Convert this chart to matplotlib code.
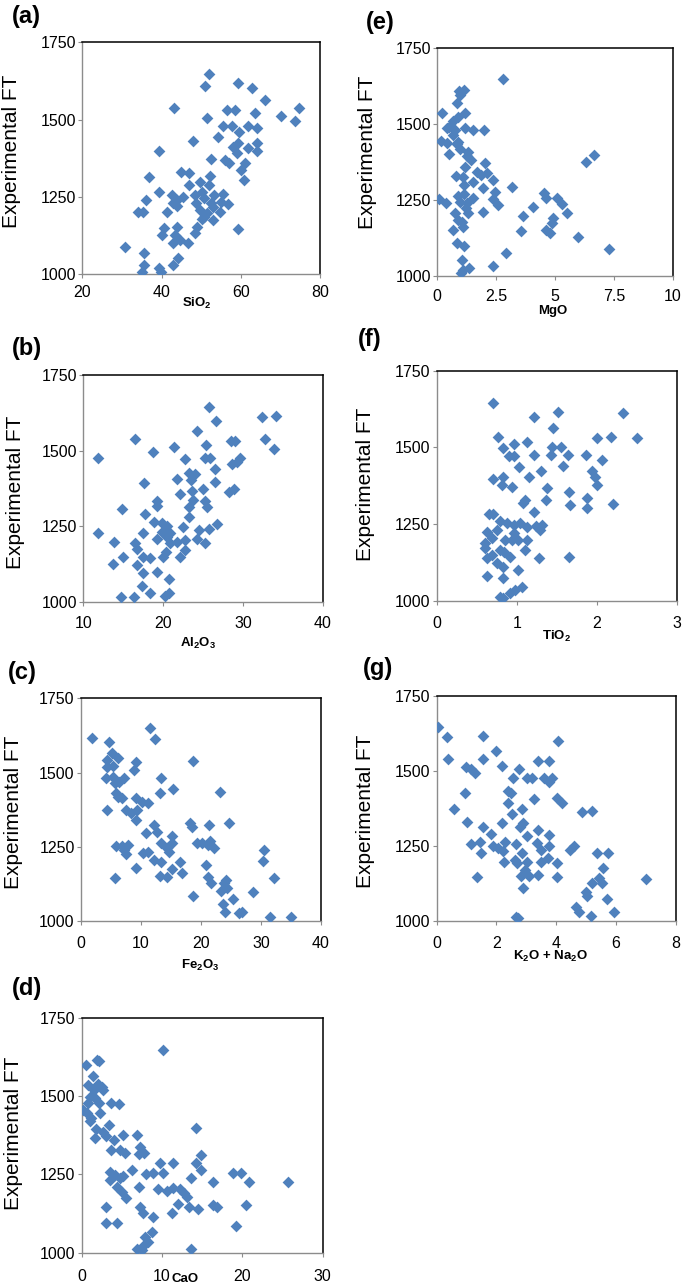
import matplotlib
matplotlib.use("Agg")
import matplotlib.pyplot as plt

plt.rcParams["font.family"] = ["Liberation Sans", "DejaVu Sans"]
plt.rcParams["mathtext.default"] = "regular"

# ---- data: oxide content vs experimental FT ----
sio2 = [52.1, 51.0, 59.2, 62.9, 66.1, 43.2, 56.6, 58.6, 74.7, 70.1, 73.7, 51.5, 63.6, 55.5, 57.9,
        59.6, 61.9, 64.0, 54.3, 48.0, 59.2, 58.1, 64.0, 61.8, 64.0, 59.1, 39.4, 52.4, 55.9, 57.0,
        61.1, 60.0, 60.8, 44.9, 46.9, 36.9, 52.2, 49.7, 47.0, 52.1, 39.4, 42.6, 45.3, 48.5, 50.1,
        50.7, 53.3, 55.5, 55.0, 56.7, 52.6, 42.8, 43.8, 36.2, 34.1, 35.4, 41.3, 49.7, 51.4, 50.1,
        52.9, 54.8, 43.8, 40.5, 43.8, 40.2, 43.5, 59.2, 48.9, 48.4, 43.0, 44.7, 46.8, 30.8, 35.7,
        44.1, 43.0, 35.7, 35.0, 39.3, 39.8, 50.8, 53.1, 48.6]
sio2_ft = [1648, 1610, 1617, 1601, 1564, 1537, 1531, 1531, 1537, 1513, 1497, 1504, 1520, 1479, 1479,
           1461, 1479, 1474, 1443, 1432, 1426, 1413, 1424, 1407, 1397, 1391, 1397, 1373, 1370, 1361,
           1359, 1337, 1305, 1332, 1326, 1314, 1319, 1300, 1288, 1289, 1265, 1256, 1249, 1256, 1267,
           1246, 1256, 1260, 1233, 1227, 1230, 1230, 1240, 1240, 1203, 1203, 1200, 1208, 1197, 1178,
           1176, 1203, 1222, 1149, 1152, 1127, 1127, 1145, 1152, 1135, 1102, 1111, 1100, 1087, 1070,
           1052, 1030, 1030, 1009, 1019, 1009, 1186, 1219, 1230]

al2o3 = [25.7, 26.6, 24.2, 32.4, 34.1, 32.8, 33.9, 16.5, 11.8, 18.7, 21.4, 25.4, 22.8, 25.2, 25.9,
         26.5, 28.5, 29.0, 28.6, 29.6, 29.2, 17.6, 21.8, 23.2, 24.0, 23.5, 26.5, 28.3, 28.9, 22.1,
         23.6, 25.0, 14.9, 19.2, 19.2, 23.8, 23.2, 25.3, 25.5, 17.7, 23.2, 18.9, 19.9, 20.5, 11.9,
         17.5, 13.8, 16.5, 19.8, 20.9, 22.5, 21.7, 22.8, 24.5, 24.2, 25.7, 26.8, 25.3, 19.2, 16.7,
         22.7, 15.0, 17.5, 20.0, 18.4, 20.4, 22.1, 13.7, 16.7, 17.5, 19.2, 20.8, 17.3, 18.4, 20.7,
         20.2, 16.3, 14.7, 20.9, 20.5]
al2o3_ft = [1645, 1598, 1566, 1610, 1614, 1537, 1504, 1537, 1476, 1496, 1513, 1518, 1471, 1476, 1476,
            1438, 1533, 1533, 1455, 1476, 1463, 1394, 1406, 1425, 1422, 1403, 1395, 1364, 1372, 1356,
            1366, 1373, 1306, 1334, 1317, 1336, 1312, 1333, 1314, 1290, 1281, 1265, 1261, 1250, 1228,
            1228, 1196, 1195, 1232, 1228, 1248, 1199, 1204, 1237, 1206, 1239, 1256, 1195, 1206, 1173,
            1171, 1147, 1149, 1149, 1143, 1165, 1147, 1125, 1121, 1094, 1099, 1075, 1052, 1028, 1030,
            1019, 1014, 1014, 1193, 1215]

fe2o3 = [1.9, 4.6, 11.5, 12.3, 5.1, 4.4, 6.2, 4.3, 5.4, 4.2, 5.4, 7.1, 9.2, 8.9, 13.4, 18.7, 5.7,
         6.3, 4.3, 5.9, 6.8, 6.2, 9.2, 10.2, 11.2, 7.5, 8.3, 9.4, 9.2, 13.2, 15.3, 23.2, 12.1, 12.6,
         10.8, 18.2, 18.5, 21.3, 24.6, 15.1, 13.4, 5.9, 6.8, 7.9, 7.2, 7.5, 10.4, 11.2, 12.1, 13.4,
         14.6, 15.1, 14.3, 19.3, 20.1, 21.1, 21.5, 22.2, 16.5, 20.8, 5.7, 9.2, 13.1, 14.3, 15.1, 16.8,
         21.2, 21.6, 23.9, 24.4, 23.3, 18.6, 25.4, 28.6, 30.5, 30.4, 32.2, 23.6, 24.0, 26.3, 26.8,
         31.5, 35.0, 24.2]
fe2o3_ft = [1615, 1604, 1649, 1612, 1567, 1542, 1548, 1520, 1522, 1481, 1486, 1481, 1537, 1509, 1481,
            1539, 1464, 1469, 1374, 1430, 1413, 1419, 1413, 1402, 1396, 1374, 1365, 1374, 1340, 1430,
            1443, 1433, 1323, 1301, 1295, 1329, 1318, 1323, 1331, 1287, 1262, 1253, 1253, 1256, 1239,
            1226, 1230, 1234, 1205, 1200, 1234, 1264, 1245, 1262, 1262, 1256, 1271, 1245, 1200, 1189,
            1144, 1177, 1152, 1147, 1174, 1161, 1149, 1127, 1127, 1110, 1102, 1084, 1073, 1097, 1239,
            1203, 1144, 1056, 1031, 1026, 1031, 1012, 1012, 1138]

cao = [10.1, 0.5, 1.9, 2.2, 1.4, 0.8, 2.0, 2.5, 1.5, 2.7, 1.0, 1.7, 0.2, 0.8, 0.7, 1.2, 2.2, 3.7,
       4.6, 1.8, 1.6, 2.7, 3.0, 3.4, 4.0, 5.1, 3.7, 4.8, 5.4, 6.9, 7.3, 7.1, 7.7, 6.2, 3.5, 4.2,
       4.8, 3.5, 5.2, 4.4, 5.0, 5.5, 8.0, 8.9, 9.7, 10.1, 11.4, 7.1, 9.5, 10.6, 11.4, 12.2, 12.7,
       13.1, 12.0, 13.6, 14.2, 14.2, 14.8, 14.9, 16.4, 18.8, 19.8, 20.8, 25.7, 3.0, 7.2, 7.6, 11.2,
       13.4, 14.5, 16.4, 16.9, 20.5, 3.0, 4.4, 8.9, 19.2, 8.7, 7.9, 8.3, 7.8, 6.9, 7.5, 13.6, 1.0, 2.3]
cao_ft = [1647, 1599, 1615, 1612, 1564, 1535, 1540, 1530, 1519, 1519, 1498, 1493, 1457, 1477, 1445,
          1429, 1477, 1477, 1474, 1394, 1365, 1386, 1372, 1407, 1360, 1376, 1328, 1328, 1317, 1376,
          1338, 1315, 1317, 1264, 1259, 1248, 1237, 1232, 1245, 1211, 1195, 1173, 1251, 1255, 1285,
          1255, 1285, 1209, 1202, 1198, 1205, 1202, 1191, 1179, 1157, 1237, 1285, 1397, 1312, 1264,
          1227, 1253, 1255, 1227, 1227, 1147, 1147, 1126, 1126, 1147, 1141, 1152, 1147, 1152, 1096,
          1096, 1113, 1085, 1067, 1051, 1035, 1024, 1011, 1009, 1011, 1419, 1445]

mgo = [2.80, 1.13, 0.93, 0.96, 0.85, 0.21, 1.17, 0.89, 0.68, 0.51, 0.75, 0.40, 1.17, 1.53, 1.98,
       0.65, 0.14, 0.40, 0.85, 0.96, 0.49, 1.31, 1.24, 1.45, 1.17, 2.02, 0.79, 1.67, 1.86, 2.09,
       1.53, 2.37, 3.15, 1.10, 1.92, 2.44, 0.08, 0.37, 0.89, 1.13, 0.96, 1.24, 1.53, 2.37, 2.58,
       3.64, 4.07, 4.52, 4.63, 5.08, 5.27, 5.52, 4.92, 4.85, 1.92, 1.31, 0.75, 0.89, 1.07, 0.68,
       4.63, 4.80, 3.55, 5.95, 7.29, 2.92, 0.85, 1.13, 6.30, 6.64, 1.03, 2.37, 1.10, 0.99, 1.36,
       0.89, 1.13, 1.21, 1.03]
mgo_ft = [1646, 1611, 1609, 1595, 1567, 1537, 1535, 1521, 1509, 1491, 1480, 1485, 1485, 1480, 1480,
          1463, 1444, 1436, 1434, 1416, 1401, 1409, 1394, 1381, 1359, 1372, 1329, 1343, 1332, 1337,
          1310, 1315, 1293, 1326, 1288, 1277, 1253, 1239, 1263, 1269, 1244, 1239, 1255, 1253, 1233,
          1197, 1228, 1272, 1255, 1255, 1237, 1206, 1189, 1173, 1211, 1206, 1206, 1184, 1162, 1151,
          1151, 1142, 1149, 1127, 1088, 1074, 1110, 1099, 1376, 1398, 1053, 1034, 1020, 1011, 1025,
          1441, 1299, 1222, 1179]

tio2 = [0.71, 1.51, 2.33, 1.21, 0.77, 0.96, 0.83, 0.90, 0.96, 1.13, 1.21, 1.44, 1.55, 1.43, 1.64,
        1.58, 1.45, 2.00, 2.18, 2.50, 2.06, 1.87, 1.94, 1.98, 2.01, 2.20, 1.88, 1.88, 1.65, 1.67,
        1.38, 1.37, 1.30, 1.15, 1.03, 0.71, 0.83, 0.81, 0.94, 1.08, 1.10, 1.22, 0.65, 0.71, 0.63,
        0.69, 0.60, 0.60, 0.69, 0.63, 0.75, 0.83, 0.63, 0.83, 1.02, 1.06, 0.98, 0.92, 0.79, 0.83,
        0.79, 0.88, 0.96, 1.04, 1.13, 1.24, 1.31, 0.75, 0.85, 0.94, 1.02, 1.13, 1.10, 0.79, 0.84,
        0.91, 1.29, 0.96, 1.28, 1.65]
tio2_ft = [1644, 1617, 1611, 1600, 1535, 1511, 1497, 1472, 1472, 1519, 1475, 1502, 1502, 1475, 1475,
           1440, 1562, 1530, 1535, 1530, 1459, 1475, 1423, 1405, 1378, 1315, 1334, 1302, 1356, 1313,
           1367, 1329, 1423, 1405, 1435, 1396, 1405, 1378, 1372, 1318, 1329, 1291, 1283, 1283, 1226,
           1204, 1188, 1172, 1150, 1139, 1123, 1112, 1082, 1074, 1101, 1047, 1036, 1025, 1012, 1009,
           1262, 1253, 1247, 1253, 1242, 1244, 1247, 1231, 1199, 1199, 1199, 1199, 1166, 1166, 1161,
           1144, 1231, 1220, 1139, 1144]

k2o_na2o = [0.03, 0.36, 0.39, 1.56, 1.98, 1.56, 4.07, 0.98, 1.15, 1.28, 2.20, 2.75, 2.54, 3.40, 3.77,
            3.01, 3.20, 3.59, 3.77, 3.85, 0.95, 2.37, 2.48, 2.40, 3.27, 4.04, 4.18, 0.59, 2.52, 2.85,
            4.85, 5.21, 1.00, 1.56, 2.20, 2.90, 2.79, 3.40, 1.82, 3.03, 3.77, 1.15, 1.45, 1.88, 2.05,
            2.29, 2.23, 2.66, 3.36, 3.50, 3.77, 2.85, 1.48, 2.26, 2.61, 2.70, 3.01, 3.48, 3.74, 4.04,
            4.46, 4.58, 2.94, 3.09, 2.82, 3.40, 4.02, 1.36, 2.88, 5.38, 5.72, 5.58, 7.01, 5.19, 5.42,
            5.53, 4.99, 5.04, 5.69, 4.65, 4.75, 5.92, 5.16, 2.65, 2.73]
k2o_na2o_ft = [1645, 1611, 1538, 1616, 1567, 1538, 1599, 1514, 1505, 1494, 1516, 1505, 1475, 1534, 1534,
               1475, 1475, 1475, 1464, 1475, 1427, 1434, 1427, 1394, 1405, 1408, 1394, 1373, 1356, 1372,
               1364, 1367, 1331, 1314, 1327, 1327, 1314, 1303, 1290, 1284, 1286, 1255, 1264, 1250, 1242,
               1264, 1234, 1255, 1259, 1236, 1250, 1227, 1227, 1197, 1203, 1192, 1197, 1197, 1209, 1194,
               1236, 1250, 1170, 1150, 1150, 1153, 1145, 1145, 1109, 1227, 1227, 1175, 1139, 1125, 1142,
               1125, 1098, 1083, 1072, 1048, 1031, 1031, 1018, 1012, 1009]

# ---- layout, in pixels of the 685x1285 picture ----
W, H = 685, 1285
panels = [
    # tag, x, y, xlabel, xlim, xticks, xticklabels, axes box (l, t, r, b), xlabel pos, ylabel pos, tag pos, tick pad
    ("(a)", sio2, sio2_ft, "SiO$_2$", (20, 80), [20, 40, 60, 80], None,
     (82.3, 42.3, 320, 274.3), (0.483, -0.094), (-0.258, 0.531), (12, 17), 4.5),
    ("(e)", mgo, mgo_ft, "MgO", (0, 10), [0, 2.5, 5, 7.5, 10], ["0", "2.5", "5", "7.5", "10"],
     (437.3, 47.7, 673, 276), (0.49, -0.128), (-0.256, 0.543), (366, 22), 6.5),
    ("(b)", al2o3, al2o3_ft, "Al$_2$O$_3$", (10, 40), [10, 20, 30, 40], None,
     (83.3, 375, 322.7, 601.7), (0.479, -0.151), (-0.243, 0.484), (12, 349), 7.5),
    ("(f)", tio2, tio2_ft, "TiO$_2$", (0, 3), [0, 1, 2, 3], None,
     (436.7, 370.7, 676.7, 601), (0.50, -0.122), (-0.257, 0.508), (358, 340), 8),
    ("(c)", fe2o3, fe2o3_ft, "Fe$_2$O$_3$", (0, 40), [0, 10, 20, 30, 40], None,
     (81, 698.3, 321, 921), (0.496, -0.166), (-0.242, 0.489), (8, 673), 8),
    ("(g)", k2o_na2o, k2o_na2o_ft, "K$_2$O + Na$_2$O", (0, 8), [0, 2, 4, 6, 8], None,
     (436.7, 695.7, 675.7, 921), (0.474, -0.124), (-0.258, 0.488), (363, 668), 8),
    ("(d)", cao, cao_ft, "CaO", (0, 30), [0, 10, 20, 30], None,
     (81.7, 1017.7, 322.7, 1252.7), (0.43, -0.085), (-0.244, 0.509), (12, 989), 8.5),
]

fig = plt.figure(figsize=(W / 100, H / 100), dpi=100)

for tag, xs, ys, xlab, xlim, xticks, xtl, box, xlpos, ylpos, tagpos, xpad in panels:
    l, t, r, b = box
    ax = fig.add_axes([l / W, 1 - b / H, (r - l) / W, (b - t) / H])
    ax.scatter(xs, ys, marker="D", s=36, color="#4F81BD", linewidths=0, zorder=3)
    ax.set_xlim(*xlim)
    ax.set_ylim(1000, 1750)
    ax.set_xticks(xticks)
    if xtl:
        ax.set_xticklabels(xtl)
    ax.set_yticks([1000, 1250, 1500, 1750])

    for side in ("left", "bottom"):
        ax.spines[side].set_color("#8c8c8c")
        ax.spines[side].set_linewidth(1.0)
    for side in ("top", "right"):
        ax.spines[side].set_color("black")
        ax.spines[side].set_linewidth(1.1)
    ax.tick_params(axis="both", direction="out", length=3, width=0.8, color="#8c8c8c",
                   labelsize=11.5, labelcolor="black")
    ax.tick_params(axis="x", pad=xpad)
    ax.tick_params(axis="y", pad=1.5)

    ax.set_xlabel(xlab, fontsize=9.5, fontweight="bold")
    ax.xaxis.set_label_coords(*xlpos)
    ax.set_ylabel("Experimental FT", fontsize=15)
    ax.yaxis.set_label_coords(*ylpos)

    fig.text(tagpos[0] / W, 1 - tagpos[1] / H, tag, fontsize=17, fontweight="bold",
             ha="left", va="center")

fig.savefig("out.png", dpi=100)
